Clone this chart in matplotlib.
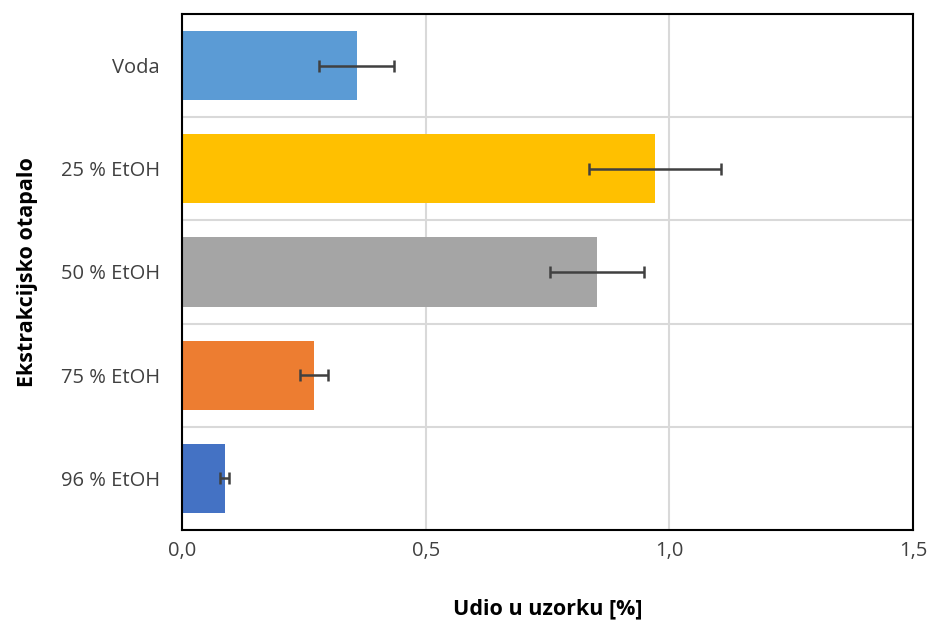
import matplotlib
matplotlib.use('Agg')
import matplotlib.pyplot as plt
from matplotlib.ticker import FuncFormatter, MultipleLocator

# ---- Data ----
categories = ['Voda', '25 % EtOH', '50 % EtOH', '75 % EtOH', '96 % EtOH']
values = [0.359, 0.971, 0.852, 0.271, 0.088]
errors = [0.077, 0.135, 0.096, 0.028, 0.009]
colors = ['#5B9BD5', '#FFC000', '#A5A5A5', '#ED7D31', '#4472C4']
xticks = [0.0, 0.5, 1.0, 1.5]

plt.rcParams['font.family'] = ['Open Sans', 'DejaVu Sans']

fig = plt.figure(figsize=(9.3, 6.21), dpi=100)
ax = fig.add_axes([0.1957, 0.1465, 0.7860, 0.8310])

ypos = list(range(len(categories)))
ax.barh(ypos, values, height=0.67, color=colors, zorder=2,
        xerr=errors,
        error_kw=dict(ecolor='#404040', elinewidth=1.8, capsize=4.5, capthick=1.8, zorder=3))

ax.set_ylim(len(categories) - 0.5, -0.5)
ax.set_xlim(0, 1.5)
ax.set_yticks(ypos)
ax.set_yticklabels(categories)
ax.set_xticks(xticks)
ax.xaxis.set_major_formatter(FuncFormatter(lambda v, p: f'{v:.1f}'.replace('.', ',')))

# gridlines: vertical at x ticks, horizontal between categories
ax.yaxis.set_minor_locator(MultipleLocator(1.0, offset=0.5))
ax.grid(axis='x', which='major', color='#D9D9D9', linewidth=1.5, zorder=0)
ax.grid(axis='y', which='minor', color='#D9D9D9', linewidth=1.5, zorder=0)

ax.tick_params(axis='both', which='both', length=0, labelsize=14.5, colors='#404040')
ax.tick_params(axis='x', pad=8)
ax.tick_params(axis='y', pad=16)
for s in ax.spines.values():
    s.set_color('black')
    s.set_linewidth(1.5)

ax.set_xlabel('Udio u uzorku [%]', fontsize=15.5, fontweight='bold', labelpad=27)
ax.set_ylabel('Ekstrakcijsko otapalo', fontsize=15.5, fontweight='bold', labelpad=16)

fig.savefig('out.png', dpi=100)
